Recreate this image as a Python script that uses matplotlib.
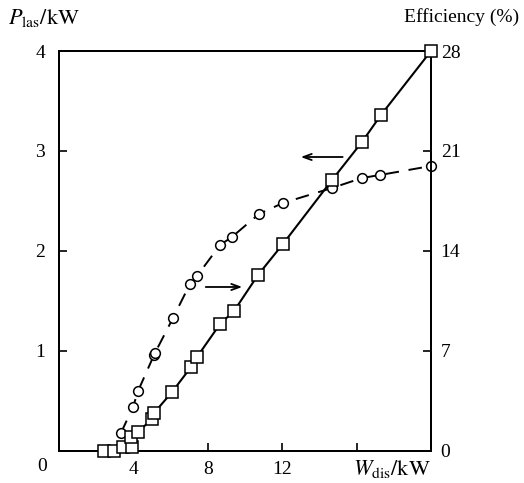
import matplotlib
matplotlib.use('Agg')
import matplotlib.pyplot as plt

plt.rcParams['font.family'] = ['Liberation Serif', 'DejaVu Serif']
plt.rcParams['mathtext.fontset'] = 'stix'

# laser power (left axis), circles
w_las = [3.33, 3.98, 4.25, 5.11, 5.16, 6.13, 7.04, 7.42, 8.66, 9.30, 10.75, 12.04, 14.68, 16.29, 17.26, 20.0]
p_las = [0.18, 0.44, 0.60, 0.96, 0.98, 1.33, 1.67, 1.75, 2.06, 2.14, 2.37, 2.48, 2.63, 2.73, 2.76, 2.85]

# efficiency (right axis), squares
w_eff = [2.42, 2.96, 3.44, 3.92, 3.87, 4.25, 5.0, 5.11, 6.08, 7.10, 7.42, 8.66, 9.41, 10.70, 12.04, 14.68, 16.29, 17.31, 20.0]
eff = [0.0, 0.0, 0.28, 0.28, 0.98, 1.33, 2.24, 2.66, 4.13, 5.88, 6.58, 8.89, 9.8, 12.32, 14.49, 18.97, 21.63, 23.52, 28.0]

fs = 14

fig = plt.figure(figsize=(5.24, 4.83), dpi=100)
ax = fig.add_axes([0.1126, 0.0663, 0.7099, 0.8281])
ax2 = ax.twinx()

ax.plot(w_las, p_las, color='black', lw=1.4, dashes=(7, 5),
        marker='o', ms=7, mfc='white', mec='black', mew=1.1, zorder=3, clip_on=False)
ax2.plot(w_eff, eff, color='black', lw=1.5,
         marker='s', ms=8, mfc='white', mec='black', mew=1.1, zorder=3, clip_on=False)

ax.set_xlim(0, 20)
ax.set_ylim(0, 4)
ax2.set_ylim(0, 28)

ax.set_xticks([4, 8, 12, 16])
ax.set_xticklabels(['4', '8', '12', ''])
ax.set_yticks([1, 2, 3, 4])
ax.set_yticklabels(['1', '2', '3', '4'])
ax2.set_yticks([0, 7, 14, 21, 28])

ax.tick_params(axis='both', direction='in', length=6, width=1.2, labelsize=fs, pad=7)
ax.tick_params(axis='y', pad=10)
ax2.tick_params(axis='y', direction='in', length=6, width=1.2, labelsize=fs, pad=7)

for a in (ax, ax2):
    for s in a.spines.values():
        s.set_linewidth(1.4)

# corner origin label and axis titles
ax.text(-0.045, -0.04, '0', transform=ax.transAxes, ha='center', va='center', fontsize=fs)
ax.text(1.0, -0.045, r'$W_{\rm dis}/{\rm kW}$', transform=ax.transAxes, ha='right', va='center', fontsize=16)
fig.text(0.015, 0.962, r'$P_{\rm las}/{\rm kW}$', ha='left', va='center', fontsize=16)
fig.text(0.99, 0.965, 'Efficiency (%)', ha='right', va='center', fontsize=fs)

# arrows pointing to the matching axes
ax.annotate('', xy=(12.85, 2.94), xytext=(15.4, 2.94),
            arrowprops=dict(arrowstyle='->,head_length=0.6,head_width=0.22', color='black', lw=1.3))
ax.annotate('', xy=(10.0, 1.64), xytext=(7.74, 1.64),
            arrowprops=dict(arrowstyle='->,head_length=0.6,head_width=0.22', color='black', lw=1.3))

fig.savefig('out.png', dpi=100)
